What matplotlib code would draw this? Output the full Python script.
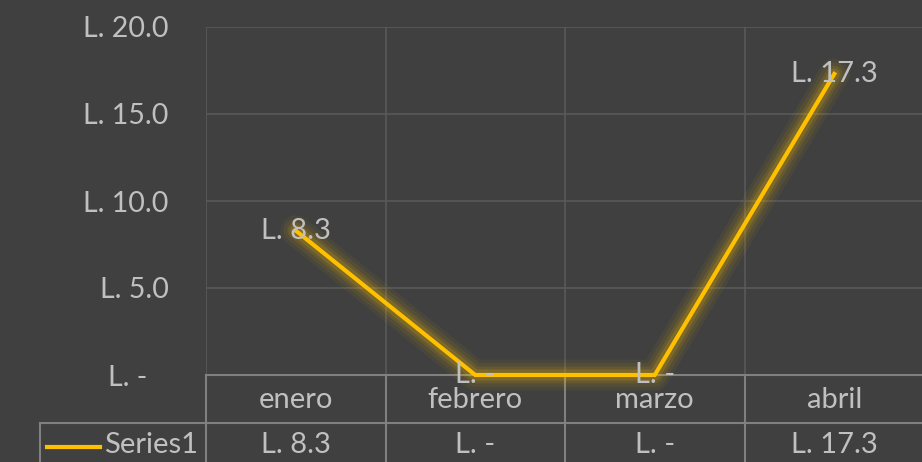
import matplotlib
matplotlib.use('Agg')
import matplotlib.pyplot as plt
from matplotlib.lines import Line2D

# data
months = ['enero', 'febrero', 'marzo', 'abril']
values = [8.3, 0.0, 0.0, 17.3]
series_name = 'Series1'
y_ticks = [0, 5, 10, 15, 20]


def lempira(v, pad=''):
    # accounting style: zero shown as a dash
    return 'L. -' + pad if v == 0 else 'L. %.1f' % v


bg = '#404040'
txt = '#C0C0C0'
grid_c = '#595959'
tab_c = '#808080'
gold = '#FFC000'
fs = 21

plt.rcParams['font.family'] = ['Lato', 'DejaVu Sans']

W, H = 922, 462
fig = plt.figure(figsize=(W / 100, H / 100), dpi=100, facecolor=bg)
ax = fig.add_axes([206 / W, (H - 375) / H, 718 / W, 348 / H])
ax.set_facecolor(bg)
ax.set_xlim(-0.5, len(months) - 0.5)
ax.set_ylim(0, 20)
for s in ax.spines.values():
    s.set_visible(False)
ax.tick_params(length=0)
ax.set_xticks([])
ax.set_yticks(y_ticks)
ax.set_yticklabels([lempira(v, '   ') for v in y_ticks], color=txt, fontsize=20.5)
ax.tick_params(axis='y', pad=27)

# grid
for v in y_ticks[1:]:
    ax.axhline(v, color=grid_c, lw=1.2, zorder=1)
for i in range(len(months) + 1):
    ax.axvline(i - 0.5, color=grid_c, lw=1.2, zorder=1)

# data table below the plot
ytop = 0.0
row_h = 48 / 348 * 20
leg_x = -0.5 - 166 / 179.5
tkw = dict(color=tab_c, lw=1.5, clip_on=False, zorder=1.5)
ax.plot([-0.5, len(months) - 0.5], [ytop, ytop], **tkw)
ax.plot([leg_x, len(months) - 0.5], [-row_h, -row_h], **tkw)
for i in range(len(months) + 1):
    ax.plot([i - 0.5, i - 0.5], [ytop, -3 * row_h], **tkw)
ax.plot([leg_x, leg_x], [-row_h, -3 * row_h], **tkw)

x = list(range(len(months)))
for xi, m, v in zip(x, months, values):
    ax.text(xi, -row_h * 0.52, m, color=txt, fontsize=fs, ha='center',
            va='center', clip_on=False)
    ax.text(xi, -row_h * 1.45, lempira(v), color=txt, fontsize=fs,
            ha='center', va='center', clip_on=False)

ax.add_line(Line2D([-0.5 - 159 / 179.5, -0.5 - 106 / 179.5],
                   [-row_h * 1.5, -row_h * 1.5], color=gold, lw=3,
                   clip_on=False))
ax.text(-0.5 - 8 / 179.5, -row_h * 1.45, series_name, color=txt,
        fontsize=fs, ha='right', va='center', clip_on=False)

# glow
for lw, a in [(22, 0.05), (17, 0.07), (12, 0.1), (8, 0.15)]:
    ax.plot(x, values, color=gold, lw=lw, alpha=a, solid_capstyle='round',
            solid_joinstyle='round', zorder=2, clip_on=False)
ax.plot(x, values, color=gold, lw=3, zorder=3, clip_on=False,
        solid_joinstyle='miter')

for xi, v in zip(x, values):
    ax.text(xi, v, lempira(v), color=txt, fontsize=fs, ha='center',
            va='center', zorder=4, clip_on=False)

fig.savefig('out.png', dpi=100, facecolor=bg)
